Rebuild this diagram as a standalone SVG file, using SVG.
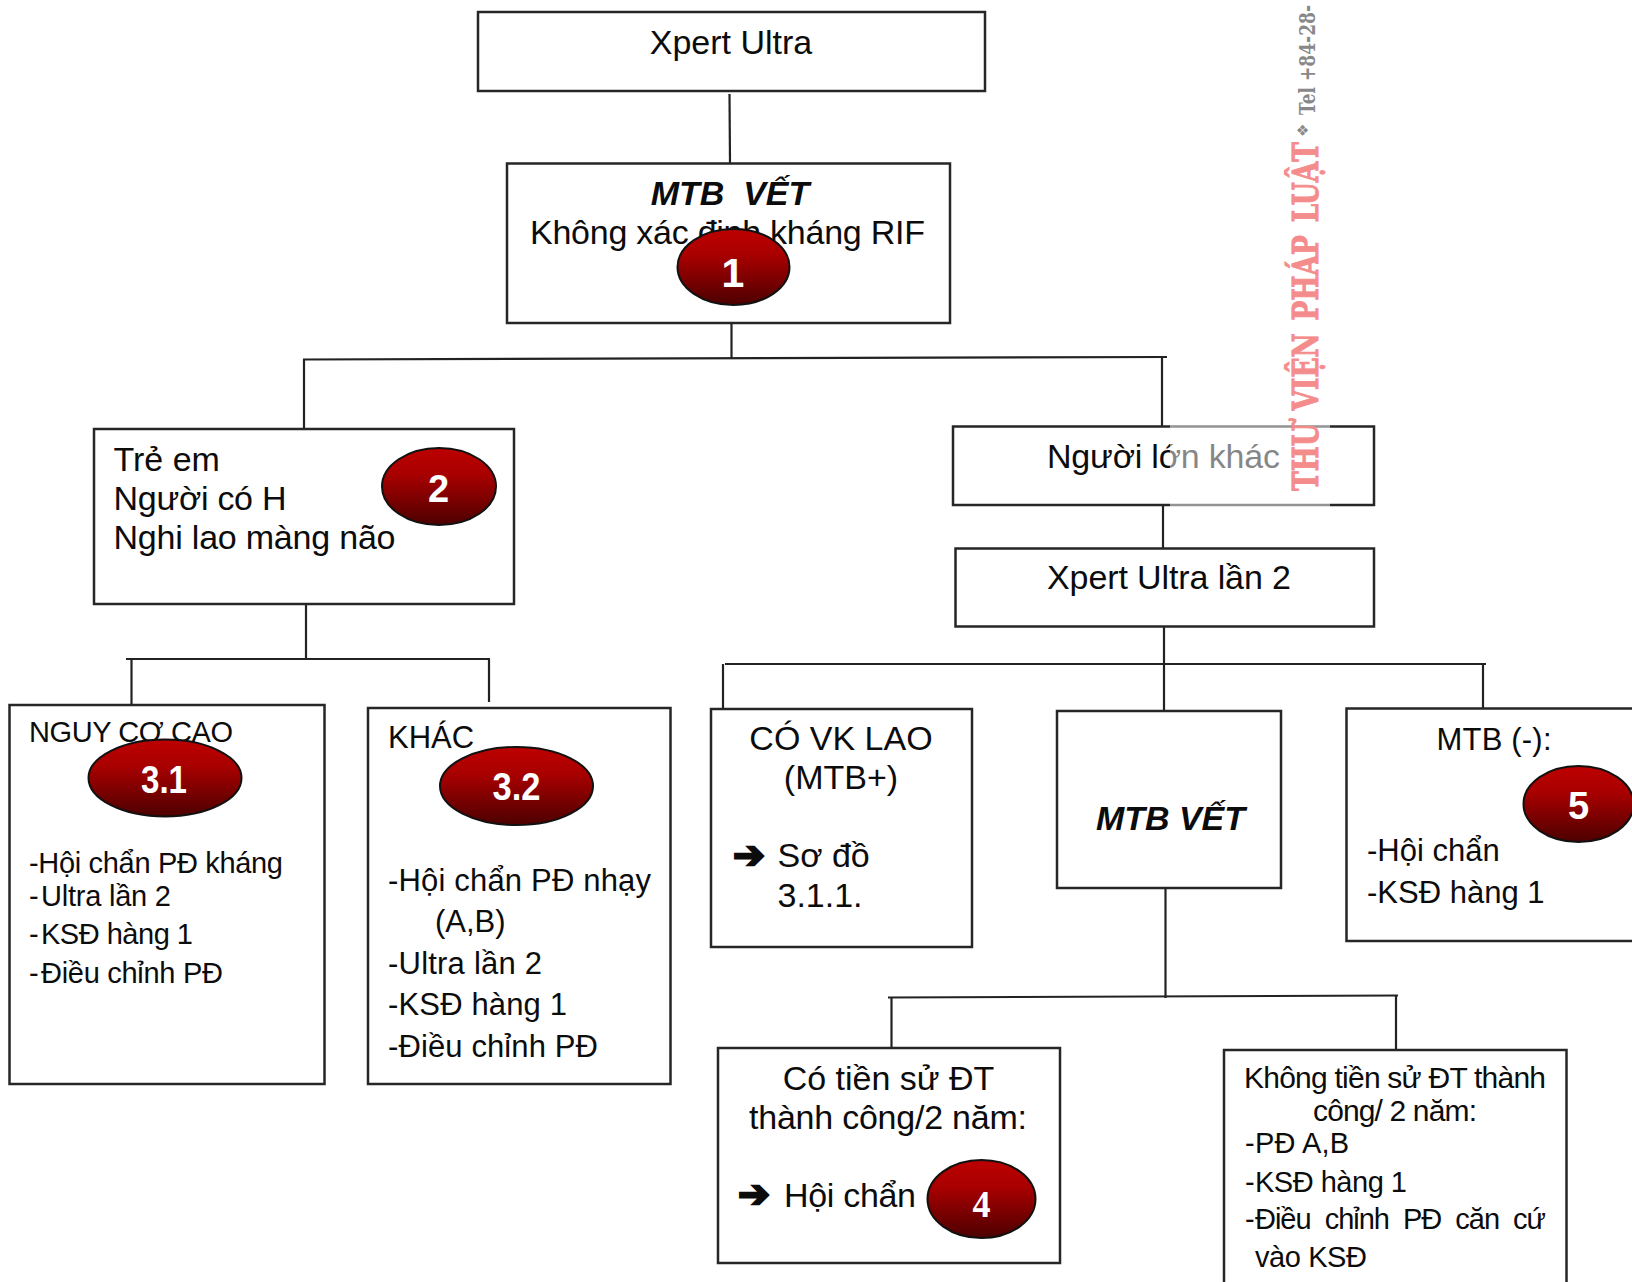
<svg xmlns="http://www.w3.org/2000/svg" width="1632" height="1282" viewBox="0 0 1632 1282">
<defs>
<linearGradient id="red" x1="0" y1="0" x2="0" y2="1"><stop offset="0" stop-color="#bd0000"/><stop offset="0.35" stop-color="#a80000"/><stop offset="1" stop-color="#4d0000"/></linearGradient>
</defs>
<style>
text{font-family:"Liberation Sans",Arial,sans-serif;fill:#0c0c0c;font-size:34px}
.box{fill:#fff;stroke:#262626;stroke-width:2.5}
.c{text-anchor:middle}
.bi{font-weight:bold;font-style:italic}
.s29{font-size:29px}
.s31{font-size:31px}
.badge{fill:url(#red);stroke:#111;stroke-width:2}
.num{font-weight:bold;fill:#fff;text-anchor:middle;font-size:38px}
.arrow{font-family:"DejaVu Sans",sans-serif;font-weight:bold;font-size:38px;stroke:#0c0c0c;stroke-width:2.4}
#connectors path{fill:none;stroke:#222;stroke-width:2.2}
</style>
<rect width="1632" height="1282" fill="#fff"/>
<g id="connectors">
<path d="M729.5 94L730 163"/>
<path d="M731.5 323V358"/>
<path d="M303 359.500L1167 357"/>
<path d="M304 359V428"/>
<path d="M1162 358V426"/>
<path d="M1163 505V548"/>
<path d="M306 604V659"/>
<path d="M126 659H490"/>
<path d="M131.500 659V705"/>
<path d="M489 659V702"/>
<path d="M1164 627V711"/>
<path d="M725 664H1486"/>
<path d="M723 664V709"/>
<path d="M1483 664V708"/>
<path d="M1165.500 888V998"/>
<path d="M888 997.500L1398 995.500"/>
<path d="M891.500 997V1048"/>
<path d="M1396 996V1050"/>
</g>
<g id="n-xpert"><rect class="box" x="478" y="12" width="507" height="79"/><text class="c" x="731" y="54">Xpert Ultra</text></g>
<g id="n-mtb-vet-1"><rect class="box" x="507" y="163.500" width="443" height="159.500"/>
<text class="c bi" x="730" y="205" xml:space="preserve">MTB  VẾT</text>
<text x="530" y="244" textLength="395">Không xác định kháng RIF</text>
<ellipse class="badge" cx="733.500" cy="267" rx="56" ry="38"/><text class="num" style="font-size:41px" x="733" y="287">1</text></g>
<g id="n-tre-em"><rect class="box" x="94" y="429" width="420" height="175"/>
<text x="113.500" y="471">Trẻ em</text><text x="113.500" y="510" textLength="173">Người có H</text><text x="113.500" y="549" textLength="282">Nghi lao màng não</text>
<ellipse class="badge" cx="439" cy="486.500" rx="57" ry="38.500"/><text class="num" x="438.500" y="502">2</text></g>
<g id="n-nguoi-lon"><rect class="box" x="953" y="426.500" width="421" height="78.500"/><text x="1047" y="468" textLength="233">Người lớn khác</text></g>
<g id="n-xpert-2"><rect class="box" x="955.500" y="548.500" width="418.500" height="78"/><text x="1047" y="589" textLength="244">Xpert Ultra lần 2</text></g>
<g id="n-31"><rect class="box" x="9.500" y="705" width="315" height="379"/>
<text class="s29" x="29" y="742" textLength="204">NGUY CƠ CAO</text>
<ellipse class="badge" cx="165" cy="778" rx="76.500" ry="38.500"/><text class="num" x="164" y="793" textLength="46" lengthAdjust="spacingAndGlyphs">3.1</text>
<text class="s29" x="29" y="873" textLength="254">-Hội chẩn PĐ kháng</text>
<text class="s29" x="29" y="906">-</text><text class="s29" x="41" y="906" textLength="130">Ultra lần 2</text>
<text class="s29" x="29" y="944">-</text><text class="s29" x="41" y="944" textLength="152">KSĐ hàng 1</text>
<text class="s29" x="29" y="983">-</text><text class="s29" x="41" y="983" textLength="182">Điều chỉnh PĐ</text></g>
<g id="n-32"><rect class="box" x="368" y="708" width="302.500" height="376"/>
<text class="s31" x="388" y="748">KHÁC</text>
<ellipse class="badge" cx="516.500" cy="786" rx="76.500" ry="39"/><text class="num" x="516.500" y="800" textLength="48" lengthAdjust="spacingAndGlyphs">3.2</text>
<text class="s31" x="388" y="891" textLength="263">-Hội chẩn PĐ nhạy</text>
<text class="s31" x="435" y="932">(A,B)</text>
<text class="s31" x="388" y="974" textLength="154">-Ultra lần 2</text>
<text class="s31" x="388" y="1015" textLength="179">-KSĐ hàng 1</text>
<text class="s31" x="388" y="1057" textLength="210">-Điều chỉnh PĐ</text></g>
<g id="n-vk-lao"><rect class="box" x="711" y="709" width="261" height="238"/>
<text class="c" x="841" y="750">CÓ VK LAO</text><text class="c" x="841" y="789">(MTB+)</text>
<text class="arrow" x="733" y="868">➔</text>
<text x="777.500" y="867">Sơ đồ</text><text x="777.500" y="907">3.1.1.</text></g>
<g id="n-mtb-vet-2"><rect class="box" x="1057" y="711" width="224" height="177"/><text class="bi" x="1096" y="830" textLength="149" lengthAdjust="spacingAndGlyphs">MTB VẾT</text></g>
<g id="n-mtb-am"><rect class="box" x="1346.500" y="708.500" width="300" height="232.500"/>
<text class="c s31" x="1494" y="750" textLength="115">MTB (-):</text>
<ellipse class="badge" cx="1578.500" cy="804" rx="55" ry="38"/><text class="num" x="1578.500" y="819">5</text>
<text class="s31" x="1367" y="861">-Hội chẩn</text><text class="s31" x="1367" y="903">-KSĐ hàng 1</text></g>
<g id="n-co-tien-su"><rect class="box" x="718" y="1048" width="342" height="215"/>
<text class="c" x="888.500" y="1090">Có tiền sử ĐT</text><text class="c" x="888" y="1129" textLength="278">thành công/2 năm:</text>
<text class="arrow" x="738" y="1207">➔</text><text x="784" y="1207" textLength="132">Hội chẩn</text>
<ellipse class="badge" cx="981.500" cy="1199" rx="54" ry="39"/><text class="num" style="font-family:'Liberation Serif',serif" x="981.500" y="1217" textLength="18" lengthAdjust="spacingAndGlyphs">4</text></g>
<g id="n-khong-tien-su"><rect class="box" x="1224" y="1050" width="342.500" height="260"/>
<text x="1244" y="1088" style="font-size:30px" textLength="302">Không tiền sử ĐT thành</text>
<text class="c" style="font-size:30px" x="1395" y="1121" textLength="164">công/ 2 năm:</text>
<text class="s29" x="1245" y="1153">-</text><text class="s29" x="1255" y="1153" textLength="94">PĐ A,B</text>
<text class="s29" x="1245" y="1192">-</text><text class="s29" x="1255" y="1192" textLength="152">KSĐ hàng 1</text>
<text class="s29" x="1245" y="1229">-</text><text class="s29" x="1255" y="1229" textLength="291" style="word-spacing:7px">Điều chỉnh PĐ căn cứ</text>
<text class="s29" x="1255" y="1267" textLength="112">vào KSĐ</text></g>
<g id="watermark">
<rect x="1170" y="420" width="160" height="90" fill="#fff" opacity="0.5"/>
<text transform="translate(1318 491) rotate(-90)" textLength="349" lengthAdjust="spacingAndGlyphs" style="font-family:'DejaVu Serif',serif;font-weight:bold;font-size:36px;word-spacing:5px;fill:#f58c8c;stroke:#f58c8c;stroke-width:1">THƯ VIỆN PHÁP LUẬT</text>
<text transform="translate(1308 137) rotate(-90)" style="font-family:'DejaVu Sans',sans-serif;font-size:15px;fill:#888">❖</text>
<text transform="translate(1315 115) rotate(-90)" textLength="110" lengthAdjust="spacingAndGlyphs" style="font-family:'DejaVu Serif',serif;font-weight:bold;font-size:23px;fill:#888">Tel +84-28-</text>
</g>
</svg>
